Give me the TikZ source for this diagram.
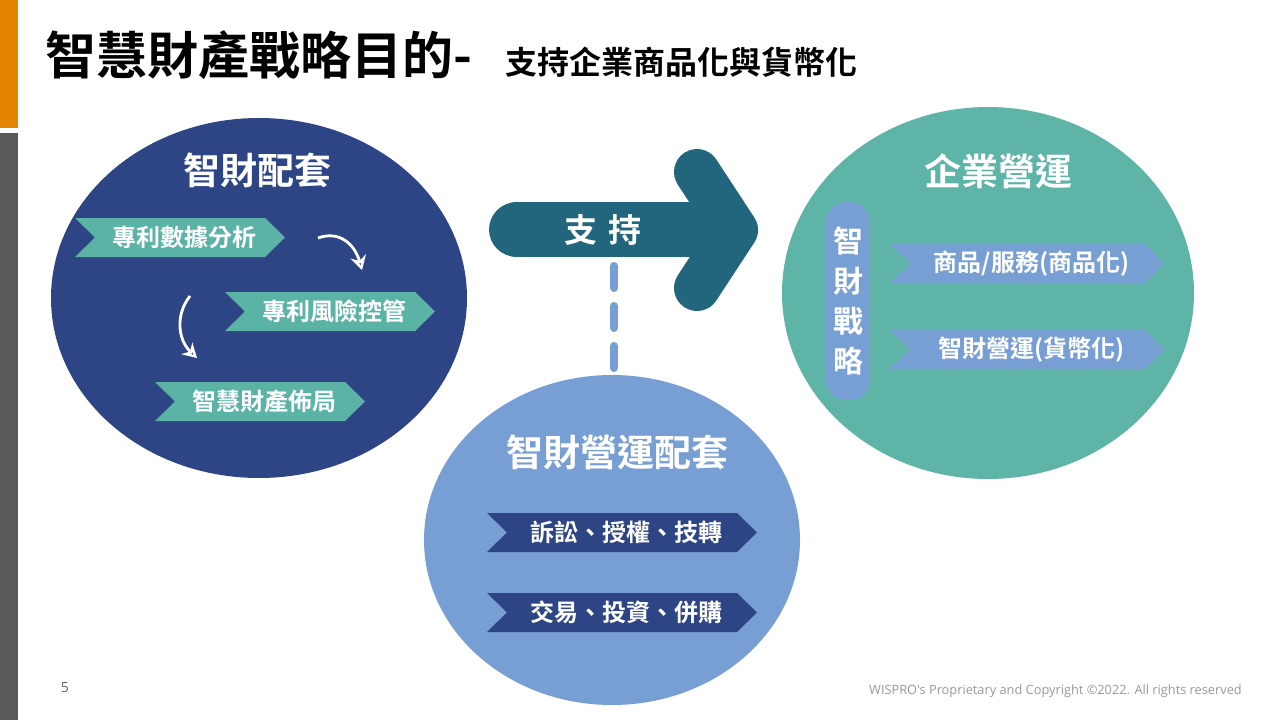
\documentclass[tikz,border=0pt]{standalone}
\usepackage{fontspec}
\setmainfont{Noto Sans CJK TC}[BoldFont={Noto Sans CJK TC Bold}]
\newfontfamily\lat{Open Sans}
\usetikzlibrary{arrows.meta}
\definecolor{navy}{HTML}{2E4585}
\definecolor{teal}{HTML}{5BB3A6}
\definecolor{rteal}{HTML}{5FB4A8}
\definecolor{lblue}{HTML}{779FD3}
\definecolor{darr}{HTML}{22667E}
\newcommand\tagbox[7]{%
  \fill[#5] (#1,#2) -- (#3-20,#2) -- (#3,{(#2+#4)/2}) -- (#3-20,#4) -- (#1,#4) -- (#1+20,{(#2+#4)/2}) -- cycle;
  \node[tagtxt] (#6) at ({(#1+#3)/2+4},{(#2+#4)/2}) {#7};}
\begin{document}
\begin{tikzpicture}[x=1pt,y=-1pt,
  tagtxt/.style={font=\bfseries\fontsize{24}{26}\selectfont,text=white,inner sep=0},
  ctitle/.style={font=\bfseries\fontsize{37}{40}\selectfont,text=white,inner sep=0}]
\useasboundingbox (0,0) rectangle (1280,720);
\fill[white] (0,0) rectangle (1280,720);
\fill[orange!85!yellow!90!black] (0,0) rectangle (18,128);
\fill[black!65] (0,133) rectangle (18,720);
\node[anchor=west,inner sep=0,font=\bfseries\fontsize{51}{54}\selectfont] (t) at (45,55) {智慧財產戰略目的-};
\node[anchor=west,inner sep=0,font=\bfseries\fontsize{32}{34}\selectfont] (st) at (505,62) {支持企業商品化與貨幣化};
% left circle
\fill[navy] (259,298) ellipse [x radius=208, y radius=180];
\node[ctitle] (lt) at (257,170) {智財配套};
\tagbox{75}{218}{285}{257}{teal}{a1}{專利數據分析}
\tagbox{225}{292}{435}{331}{teal}{a2}{專利風險控管}
\tagbox{155}{382}{365}{421}{teal}{a3}{智慧財產佈局}
\coordinate (c1s) at (318,238); \coordinate (c1e) at (362,270);
\coordinate (c2s) at (190,296); \coordinate (c2e) at (197,358);
\draw[white,line width=2.8,-{Stealth[open,length=14,width=16]}] (c1s) .. controls (340,230) and (355,245) .. (c1e);
\draw[white,line width=2.8,-{Stealth[open,length=14,width=16]}] (c2s) .. controls (175,315) and (178,340) .. (c2e);
% big arrow
\fill[darr] (517,229.5) ellipse [x radius=28, y radius=27.5];
\fill[darr] (517,202) rectangle (720,257);
\draw[darr,line width=46,line cap=round,line join=round] (697,172) -- (735,230) -- (697,288);
\node[font=\bfseries\fontsize{33}{35}\selectfont,text=white,inner sep=0] (sup) at (603,230) {支\,\,持};
% dashed
\coordinate (d1) at (614,266); \coordinate (d2) at (614,372);
\draw[lblue,line width=8,line cap=round,dash pattern=on 22 off 18] (d1) -- (d2);
% bottom circle
\fill[lblue] (612,540) ellipse [x radius=188, y radius=165];
\node[ctitle] (bt) at (617,452) {智財營運配套};
\tagbox{487}{513}{757}{552}{navy}{b1}{訴訟、授權、技轉}
\tagbox{487}{593}{757}{632}{navy}{b2}{交易、投資、併購}
% right circle
\fill[rteal] (988,293) ellipse [x radius=206, y radius=186];
\node[ctitle] (rt) at (998,171) {企業營運};
\fill[lblue,rounded corners=20] (826,202) rectangle (870,400);
\node[font=\bfseries\fontsize{30}{40}\selectfont,text=white,align=center,inner sep=0] (v) at (848,301) {智\\財\\戰\\略};
\tagbox{890}{244}{1165}{283}{lblue}{r1}{商品/服務(商品化)}
\tagbox{890}{330}{1165}{369}{lblue}{r2}{智財營運(貨幣化)}
% footer
\node[font=\lat\fontsize{14}{15}\selectfont,text=black!60,inner sep=0] (pn) at (65,688) {5};
\node[anchor=east,font=\lat\fontsize{12.8}{14}\selectfont,text=black!40,inner sep=0] (ft) at (1242,691) {WISPRO's Proprietary and Copyright ©2022. All rights reserved};
\end{tikzpicture}
\end{document}
